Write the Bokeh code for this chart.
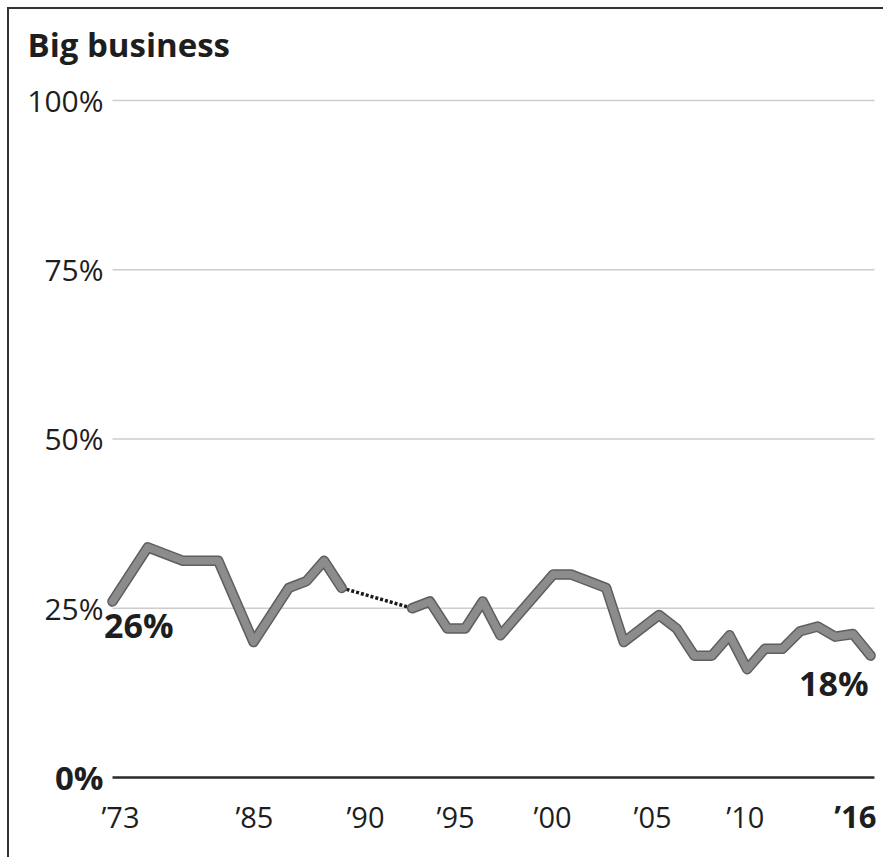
from bokeh.plotting import figure
from bokeh.models import Label, Range1d, ColumnDataSource
from bokeh.core.properties import value
from bokeh.embed import file_html
from bokeh.resources import INLINE

# ---- data ----
title_text = "Big business"
years_a = [1973, 1975, 1977, 1979, 1981, 1983, 1984, 1985, 1986]
vals_a = [26, 34, 32, 32, 20, 28, 29, 32, 28]
years_b = [1990, 1991, 1992, 1993, 1994, 1995, 1998, 1999, 2001, 2002, 2004, 2005,
           2006, 2007, 2008, 2009, 2010, 2011, 2012, 2013, 2014, 2015, 2016]
vals_b = [25, 26, 22, 22, 26, 21, 30, 30, 28, 20, 24, 22,
          18, 18, 21, 16, 19, 19, 21.6, 22.3, 20.8, 21.2, 18]
y_ticks = [25, 50, 75, 100]
y_tick_labels = ["25%", "50%", "75%", "100%"]
y_zero = 0
y_zero_label = "0%"
# x-axis labels sit where the reference draws them (not evenly spaced in time)
x_tick_pos = [1973.45, 1981.05, 1987.35, 1992.46, 1997.96, 2003.63, 2008.9]
x_tick_labels = ["\u201973", "\u201985", "\u201990", "\u201995", "\u201900", "\u201905", "\u201910"]
x_last_pos = 2015.14
x_last_label = "\u201916"

FONT = value("Open Sans")
INK = "#1e1e1e"

p = figure(width=876, height=850, output_backend="svg", toolbar_location=None,
           x_range=Range1d(1967.158, 2016.846), y_range=Range1d(-12.112, 113.44),
           x_axis_location=None, y_axis_location=None,
           min_border=0, min_border_left=0, min_border_right=0,
           min_border_top=0, min_border_bottom=0)
p.styles = {"margin-left": "7px", "margin-top": "7px",
            "border-top": "2px solid #333", "border-left": "2px solid #333",
            "border-right": "0px none", "border-bottom": "0px none",
            "outline": "none", "box-shadow": "none"}
p.outline_line_color = None
p.background_fill_color = "white"
p.border_fill_color = "white"
p.xgrid.visible = False
p.ygrid.visible = False

grid_x0 = years_a[0]
grid_x1 = years_b[-1] + 0.22

# horizontal gridlines
p.segment(x0=[grid_x0] * len(y_ticks), y0=y_ticks, x1=[grid_x1] * len(y_ticks), y1=y_ticks,
          line_color="#cdcdcd", line_width=1.5)
p.segment(x0=[grid_x0], y0=[y_zero], x1=[grid_x1], y1=[y_zero], line_color="#2a2a2a", line_width=2.5)

# y tick labels
ysrc = ColumnDataSource(dict(x=[grid_x0] * len(y_ticks), y=y_ticks, t=y_tick_labels))
p.text(x="x", y="y", text="t", source=ysrc, text_align="right", text_baseline="middle",
       x_offset=-9, text_font=FONT, text_font_size="30px", text_color=INK)
p.text(x=[grid_x0], y=[y_zero], text=[y_zero_label], text_align="right", text_baseline="middle",
       x_offset=-9, text_font=FONT, text_font_size="33px", text_font_style="bold", text_color=INK)

# x tick labels
xsrc = ColumnDataSource(dict(x=x_tick_pos, y=[y_zero] * len(x_tick_pos), t=x_tick_labels))
p.text(x="x", y="y", text="t", source=xsrc, text_align="center", text_baseline="top",
       y_offset=19, text_font=FONT, text_font_size="29px", text_color=INK)
p.text(x=[x_last_pos], y=[y_zero], text=[x_last_label], text_align="center", text_baseline="top",
       y_offset=17, text_font=FONT, text_font_size="31px", text_font_style="bold", text_color=INK)

# dotted gap
p.line([years_a[-1], years_b[0]], [vals_a[-1], vals_b[0]], line_width=3.5, color="#1a1a1a",
       line_dash="3 2")
# series
for xs, ys in ((years_a, vals_a), (years_b, vals_b)):
    p.line(xs, ys, line_width=10.5, color="#5e5e5e", line_join="round", line_cap="round")
    p.line(xs, ys, line_width=7.5, color="#8c8c8c", line_join="round", line_cap="round")

# title
p.add_layout(Label(x=years_a[0], y=y_ticks[-1], text=title_text, text_align="left",
                   text_baseline="alphabetic", x_offset=-85, y_offset=56, text_font="Open Sans",
                   text_font_size="33px", text_font_style="bold", text_color=INK))

# end-value labels
p.add_layout(Label(x=years_a[0], y=vals_a[0], text=f"{vals_a[0]}%", text_align="left",
                   text_baseline="top", x_offset=-8.5, y_offset=-1, text_font="Open Sans",
                   text_font_size="34px", text_font_style="bold", text_color=INK))
p.add_layout(Label(x=years_b[-1], y=vals_b[-1], text=f"{vals_b[-1]}%", text_align="right",
                   text_baseline="top", x_offset=-2, y_offset=-4, text_font="Open Sans",
                   text_font_size="34px", text_font_style="bold", text_color=INK))

open("out.html", "w").write(file_html(p, INLINE))
